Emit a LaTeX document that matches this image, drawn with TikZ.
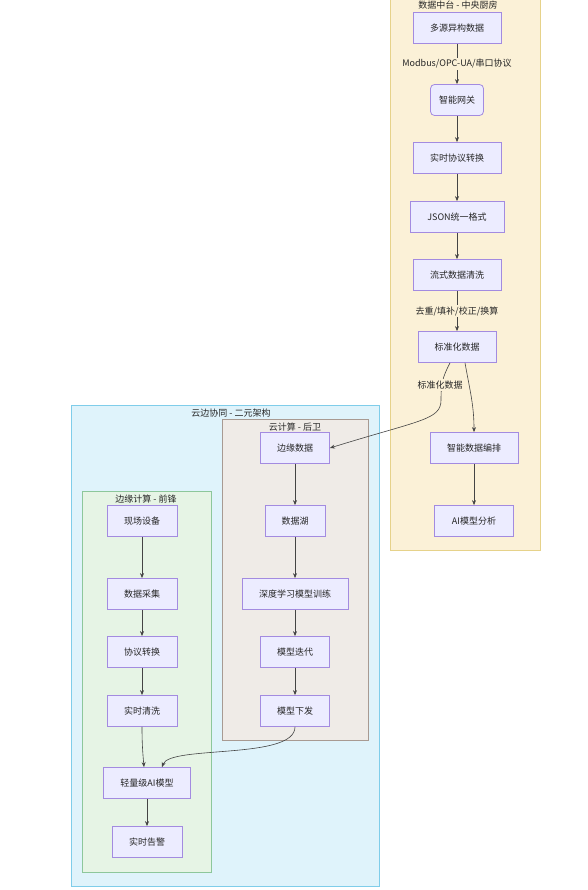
\documentclass[tikz,border=0pt]{standalone}
\usepackage{fontspec}
\setmainfont{Noto Sans CJK SC}
\usetikzlibrary{arrows.meta}
\definecolor{nfill}{HTML}{ECECFF}
\definecolor{ndraw}{HTML}{A38BE0}
\definecolor{yfill}{HTML}{FBF1D7}
\definecolor{ydraw}{HTML}{E6D28A}
\definecolor{bfill}{HTML}{DFF3FB}
\definecolor{bdraw}{HTML}{7FCDEA}
\definecolor{gfill}{HTML}{EFEBE7}
\definecolor{gdraw}{HTML}{A89A92}
\definecolor{efill}{HTML}{E6F4E5}
\definecolor{edraw}{HTML}{8DC79B}
\definecolor{lnk}{HTML}{444444}
\tikzset{
  box/.style={draw=ndraw, fill=nfill, line width=0.8pt, minimum height=31pt, inner sep=0pt, font=\fontsize{9}{10}\selectfont, text=black!85},
  grp/.style={line width=0.8pt, inner sep=0pt, anchor=north west},
  gtitle/.style={font=\fontsize{9}{10}\selectfont, text=black!85, inner sep=0pt},
  elab/.style={font=\fontsize{9}{10}\selectfont, text=black!85, inner sep=1.5pt},
  link/.style={draw=lnk, line width=0.6pt, -{Stealth[length=5pt,width=4pt]}},
}
\begin{document}
\begin{tikzpicture}[x=1pt,y=-1pt]
\useasboundingbox (0,0) rectangle (587,890);
% groups
\node[grp, draw=ydraw, fill=yfill, minimum width=150pt, minimum height=551pt] (gdata) at (390,-1) {};
\node[gtitle] (tdata) at (458,5) {数据中台 - 中央厨房};
\node[grp, draw=bdraw, fill=bfill, minimum width=308pt, minimum height=481pt] (gce) at (71,405) {};
\node[gtitle] (tce) at (231,413) {云边协同 - 二元架构};
\node[grp, draw=gdraw, fill=gfill, minimum width=146pt, minimum height=321pt] (gcloud) at (222,419) {};
\node[gtitle] (tcloud) at (295,427) {云计算 - 后卫};
\node[grp, draw=edraw, fill=efill, minimum width=129pt, minimum height=381pt] (gedge) at (82,491) {};
\node[gtitle] (tedge) at (146,499) {边缘计算 - 前锋};
% data platform nodes
\node[box, minimum width=88pt] (d1) at (457,28) {多源异构数据};
\node[box, minimum width=53pt, rounded corners=4pt] (d2) at (457,100) {智能网关};
\node[box, minimum width=88pt] (d3) at (457,158) {实时协议转换};
\node[box, minimum width=94pt] (d4) at (457,217) {JSON统一格式};
\node[box, minimum width=88pt] (d5) at (457,275) {流式数据清洗};
\node[box, minimum width=78pt] (d6) at (457,347) {标准化数据};
\node[box, minimum width=88pt] (d7) at (474,448) {智能数据编排};
\node[box, minimum width=79pt] (d8) at (474,521) {AI模型分析};
% cloud nodes
\node[box, minimum width=69pt] (c1) at (295,448) {边缘数据};
\node[box, minimum width=60pt] (c2) at (295,521) {数据湖};
\node[box, minimum width=106pt] (c3) at (295,594) {深度学习模型训练};
\node[box, minimum width=69pt] (c4) at (295,652) {模型迭代};
\node[box, minimum width=69pt] (c5) at (295,711) {模型下发};
% edge nodes
\node[box, minimum width=70pt] (e1) at (142,521) {现场设备};
\node[box, minimum width=70pt] (e2) at (142,594) {数据采集};
\node[box, minimum width=70pt] (e3) at (142,652) {协议转换};
\node[box, minimum width=70pt] (e4) at (142,711) {实时清洗};
\node[box, minimum width=87pt] (e5) at (147,783) {轻量级AI模型};
\node[box, minimum width=70pt] (e6) at (147,842) {实时告警};
% data platform links
\draw[link] (d1) -- node[elab, fill=yfill] {Modbus/OPC-UA/串口协议} (d2);
\draw[link] (d2) -- (d3);
\draw[link] (d3) -- (d4);
\draw[link] (d4) -- (d5);
\draw[link] (d5) -- node[elab, fill=yfill] {去重/填补/校正/换算} (d6);
\draw[link] ([xshift=8pt]d6.south) to[out=-80,in=90] (d7.north);
\draw[link] (d7) -- (d8);
\draw[link] ([xshift=-7pt]d6.south) .. controls (442,378) and (441,385) .. (441,400)
  .. controls (441,420) and (420,420) .. (c1.east);
\node[elab, fill=yfill] (lstd) at (440,385) {标准化数据};
% cloud links
\draw[link] (c1) -- (c2);
\draw[link] (c2) -- (c3);
\draw[link] (c3) -- (c4);
\draw[link] (c4) -- (c5);
\draw[link] (c5.south) .. controls (295,760) and (170,745) .. ([xshift=15pt]e5.north);
% edge links
\draw[link] (e1) -- (e2);
\draw[link] (e2) -- (e3);
\draw[link] (e3) -- (e4);
\draw[link] (e4.south) to[out=-90,in=95] ([xshift=-3pt]e5.north);
\draw[link] (e5) -- (e6);
\end{tikzpicture}
\end{document}
